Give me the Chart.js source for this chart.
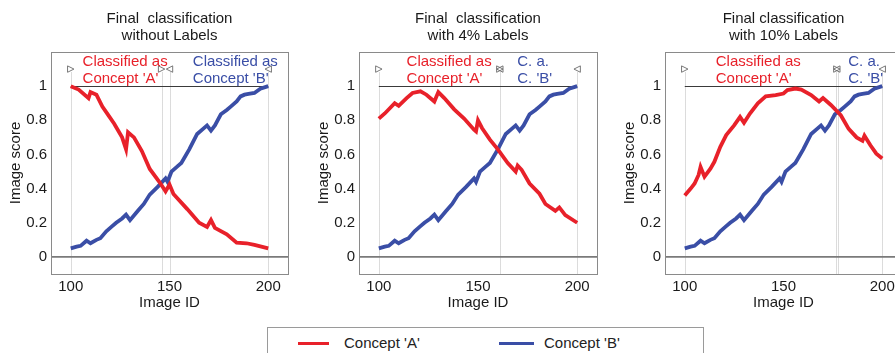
<!DOCTYPE html>
<html>
<head>
<meta charset="utf-8">
<script src="https://cdn.jsdelivr.net/npm/chart.js@4.4.1/dist/chart.umd.min.js"></script>
<style>
  body { margin: 0; width: 895px; height: 353px; overflow: hidden; background: #fff; position: relative; }
  canvas { position: absolute; top: 0; }
  #legend { position: absolute; left: 267px; top: 327px; width: 437px; height: 40px; border: 1px solid #9a9a9a; box-sizing: border-box;
            font: 15px "Liberation Sans", Arial, sans-serif; color: #222; }
  #legend span.ln { position: absolute; top: 14px; height: 3px; }
  #legend span.tx { position: absolute; top: 6px; }
</style>
</head>
<body>
<canvas id="c1" width="300" height="320" style="left:0px"></canvas>
<canvas id="c2" width="300" height="320" style="left:300px"></canvas>
<canvas id="c3" width="310" height="320" style="left:600px"></canvas>
<div id="legend">
  <span class="ln" style="left:30px;width:31px;background:#e8212a"></span>
  <span class="tx" style="left:76px">Concept 'A'</span>
  <span class="ln" style="left:231px;width:35px;background:#3a4ea6"></span>
  <span class="tx" style="left:276px">Concept 'B'</span>
</div>
<script>
// tick labels
xTicks = [100, 150, 200]
yTicks = [0, 0.2, 0.4, 0.6, 0.8, 1]

// Concept 'B' score (same in all three panels)
blueIds = [100,103,105,108,110,113,115,118,121,123,126,128,130,134,137,140,144,148,149,151,154,156,160,164,167,169,171,173,176,179,181,184,186,188,190,193,196,200]
blueVals = [0.05,0.06,0.065,0.095,0.08,0.1,0.11,0.15,0.18,0.2,0.225,0.247,0.215,0.27,0.31,0.365,0.41,0.46,0.44,0.5,0.53,0.55,0.63,0.72,0.75,0.77,0.74,0.77,0.835,0.86,0.88,0.91,0.94,0.95,0.955,0.96,0.985,1.0]

// Concept 'A' score, without labels
red1Ids = [100,104,109,110,113,116,119,122,126,128,129,132,136,140,145,148,150,152,159,165,169,171,173,179,184,189,193,200]
red1Vals = [1.0,0.98,0.93,0.965,0.95,0.88,0.83,0.78,0.70,0.63,0.73,0.70,0.62,0.515,0.437,0.384,0.424,0.369,0.28,0.2,0.176,0.216,0.17,0.133,0.084,0.08,0.07,0.05]

// Concept 'A' score, 4% labels
red2Ids = [100,103,108,110,114,117,121,124,128,130,133,138,143,148,149,150,152,156,160,165,169,170,172,176,181,184,189,191,194,200]
red2Vals = [0.81,0.84,0.9,0.885,0.93,0.96,0.97,0.95,0.91,0.965,0.93,0.864,0.81,0.745,0.735,0.8,0.755,0.687,0.63,0.55,0.5,0.535,0.51,0.43,0.37,0.31,0.27,0.29,0.245,0.2]

// Concept 'A' score, 10% labels
red3Ids = [100,103,105,107,108,110,113,115,118,121,125,128,130,133,137,141,146,150,152,156,159,164,168,170,174,179,183,187,190,191,194,197,200]
red3Vals = [0.36,0.4,0.43,0.48,0.527,0.47,0.517,0.557,0.645,0.713,0.77,0.82,0.785,0.84,0.9,0.94,0.948,0.957,0.977,0.986,0.98,0.948,0.91,0.93,0.89,0.83,0.75,0.70,0.68,0.71,0.654,0.605,0.576]

RED = '#e8212a'
BLUE = '#3a4ea6'
FONT = '"Liberation Sans", Arial, sans-serif'

function toPoints(ids, vals) {
    return ids.map((x, i) => ({x: x, y: vals[i]}));
}

function triangle(ctx, x, y, dir) {
    const s = 3.2;
    ctx.beginPath();
    if (dir == 'right') {
        ctx.moveTo(x - s, y - s); ctx.lineTo(x + s, y); ctx.lineTo(x - s, y + s);
    } else {
        ctx.moveTo(x + s, y - s); ctx.lineTo(x - s, y); ctx.lineTo(x + s, y + s);
    }
    ctx.closePath();
    ctx.stroke();
}

const annot = {
    id: 'annot',
    beforeDatasetsDraw(chart, args, o) {
        const ctx = chart.ctx, a = chart.chartArea;
        const xs = chart.scales.x, ys = chart.scales.y;
        ctx.save();
        // dotted region boundaries
        ctx.strokeStyle = '#b8b8b8';
        ctx.lineWidth = 1;
        ctx.setLineDash([1, 1]);
        [100, 200].concat(o.bounds).forEach(b => {
            const px = Math.round(xs.getPixelForValue(b)) + 0.5;
            ctx.beginPath();
            ctx.moveTo(px, ys.getPixelForValue(1.08));
            ctx.lineTo(px, a.bottom);
            ctx.stroke();
        });
        ctx.setLineDash([]);
        // line at score 1
        ctx.strokeStyle = '#3a3a3a';
        ctx.beginPath();
        const y1 = Math.round(ys.getPixelForValue(1)) + 0.5;
        ctx.moveTo(xs.getPixelForValue(100), y1);
        ctx.lineTo(xs.getPixelForValue(200), y1);
        ctx.stroke();
        // zero line
        ctx.strokeStyle = '#7a7a7a';
        ctx.lineWidth = 1.6;
        ctx.beginPath();
        const y0 = ys.getPixelForValue(0);
        ctx.moveTo(a.left, y0);
        ctx.lineTo(a.right, y0);
        ctx.stroke();
        // frame
        ctx.strokeStyle = '#8a8a8a';
        ctx.lineWidth = 1;
        ctx.strokeRect(a.left + 0.5, a.top + 0.5, a.right - a.left, a.bottom - a.top);
        ctx.restore();
    },
    afterDatasetsDraw(chart, args, o) {
        const ctx = chart.ctx, a = chart.chartArea;
        const xs = chart.scales.x, ys = chart.scales.y;
        ctx.save();
        // title
        ctx.fillStyle = '#1a1a1a';
        ctx.font = '15px ' + FONT;
        ctx.textAlign = 'center';
        ctx.textBaseline = 'middle';
        const cx = (a.left + a.right) / 2;
        ctx.fillText(o.title[0], cx, a.top - 33.5);
        ctx.fillText(o.title[1], cx, a.top - 16.5);
        // markers
        ctx.strokeStyle = '#6a6a6a';
        ctx.lineWidth = 0.9;
        const ty = ys.getPixelForValue(1.1);
        o.marks.forEach(m => triangle(ctx, xs.getPixelForValue(m[0]), ty, m[1]));
        // region texts
        ctx.textAlign = 'left';
        ctx.fillStyle = RED;
        ctx.fillText(o.redText[0], xs.getPixelForValue(o.redAt), ys.getPixelForValue(1.143));
        ctx.fillText(o.redText[1], xs.getPixelForValue(o.redAt), ys.getPixelForValue(1.045));
        ctx.fillStyle = BLUE;
        ctx.fillText(o.blueText[0], xs.getPixelForValue(o.blueAt), ys.getPixelForValue(1.143));
        ctx.fillText(o.blueText[1], xs.getPixelForValue(o.blueAt), ys.getPixelForValue(1.045));
        ctx.restore();
    }
};

function makePanel(id, redIds, redVals, cfg) {
    const font = {family: FONT, size: 15};
    new Chart(document.getElementById(id), {
        type: 'line',
        data: {
            datasets: [
                {label: "Concept 'A'", data: toPoints(redIds, redVals), borderColor: RED, borderWidth: 3.8, pointRadius: 0, tension: 0},
                {label: "Concept 'B'", data: toPoints(blueIds, blueVals), borderColor: BLUE, borderWidth: 3.8, pointRadius: 0, tension: 0}
            ]
        },
        options: {
            responsive: false,
            animation: false,
            layout: {padding: {left: cfg.padLeft, right: cfg.padRight, top: 52, bottom: 8.6}},
            plugins: {legend: {display: false}, tooltip: {enabled: false}, annot: cfg},
            scales: {
                x: {
                    type: 'linear', min: 90, max: 210,
                    afterBuildTicks: s => { s.ticks = xTicks.map(v => ({value: v})); },
                    afterFit: s => { s.height = 37.4; },
                    grid: {display: false, drawTicks: false},
                    border: {display: false},
                    ticks: {font: font, color: '#1a1a1a', padding: 4},
                    title: {display: true, text: 'Image ID', font: font, color: '#1a1a1a', padding: 0}
                },
                y: {
                    min: -0.1, max: 1.2,
                    afterBuildTicks: s => { s.ticks = yTicks.map(v => ({value: v})); },
                    afterFit: s => { s.width = 51; },
                    grid: {display: false, drawTicks: false},
                    border: {display: false},
                    ticks: {font: font, color: '#1a1a1a', padding: 4, callback: v => String(v)},
                    title: {display: true, text: 'Image score', font: font, color: '#1a1a1a', padding: {top: 6.6, bottom: 0}}
                }
            }
        },
        plugins: [annot]
    });
}

makePanel('c1', red1Ids, red1Vals, {
    padLeft: 0, padRight: 12,
    title: ['Final  classification', 'without Labels'],
    bounds: [146, 150],
    marks: [[100, 'right'], [146, 'right'], [150, 'left'], [200, 'left']],
    redText: ['Classified as', "Concept 'A'"], redAt: 106,
    blueText: ['Classified as', "Concept 'B'"], blueAt: 161.8
});

makePanel('c2', red2Ids, red2Vals, {
    padLeft: 8, padRight: 3,
    title: ['Final  classification', 'with 4% Labels'],
    bounds: [161],
    marks: [[100, 'right'], [161, 'left'], [161, 'right'], [200, 'left']],
    redText: ['Classified as', "Concept 'A'"], redAt: 114,
    blueText: ['C. a.', "C. 'B'"], blueAt: 169.8
});

makePanel('c3', red3Ids, red3Vals, {
    padLeft: 14, padRight: 8,
    title: ['Final classification', 'with 10% Labels'],
    bounds: [176.5, 177.5],
    marks: [[100, 'right'], [177, 'left'], [177, 'right'], [200, 'left']],
    redText: ['Classified as', "Concept 'A'"], redAt: 115.7,
    blueText: ['C. a.', "C. 'B'"], blueAt: 182.8
});
</script>
</body>
</html>
